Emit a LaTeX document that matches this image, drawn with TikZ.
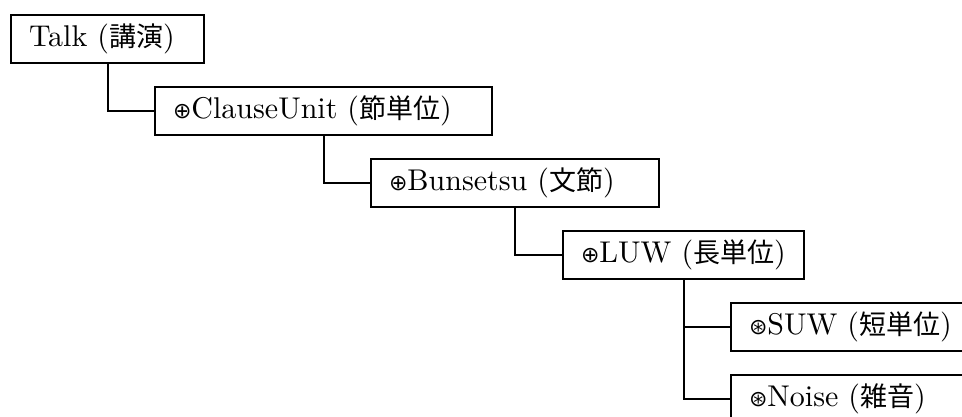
\documentclass[tikz,border=0pt]{standalone}
\usepackage{fontspec}
\usepackage{tikz}
\usetikzlibrary{positioning}
\setmainfont{lmroman10-regular.otf}
\newfontfamily\jpfont{Noto Sans CJK JP}
\newfontfamily\symfont{DejaVu Sans}
\newcommand{\plusmark}{{\symfont\fontsize{22}{22}\selectfont ⊕}}
\newcommand{\astmark}{{\symfont\fontsize{22}{22}\selectfont ⊛}}
\newcommand{\jp}[1]{{\jpfont\fontsize{27}{30}\selectfont #1}}

\begin{document}
\begin{tikzpicture}[
    x=1pt, y=-1pt,
    box/.style={draw, line width=2pt, anchor=north west, minimum height=48pt,
                inner xsep=18pt, inner ysep=0pt, align=left,
                font=\fontsize{30}{34}\selectfont,
                execute at begin node=\hbox\bgroup, execute at end node=\egroup},
    conn/.style={line width=2pt}
  ]
  \clip (0,0) rectangle (962,417);
  \node[box, text width=157pt] (talk) at (10,14) {Talk (\jp{講演})};
  \node[box, text width=301pt] (clause) at (154,86) {\plusmark ClauseUnit (\jp{節単位})};
  \node[box, text width=252pt] (bunsetsu) at (370,158) {\plusmark Bunsetsu (\jp{文節})};
  \node[box, text width=205pt] (luw) at (562,230) {\plusmark LUW (\jp{長単位})};
  \node[box, text width=214pt] (suw) at (730,302) {\astmark SUW (\jp{短単位})};
  \node[box, text width=214pt] (noise) at (730,374) {\astmark Noise (\jp{雑音})};

  \draw[conn] (talk.south) |- (clause.west);
  \draw[conn] (clause.south) |- (bunsetsu.west);
  \draw[conn] (bunsetsu.south) |- (luw.west);
  \draw[conn] (luw.south) |- (suw.west);
  \draw[conn] (luw.south) |- (noise.west);
\end{tikzpicture}
\end{document}
